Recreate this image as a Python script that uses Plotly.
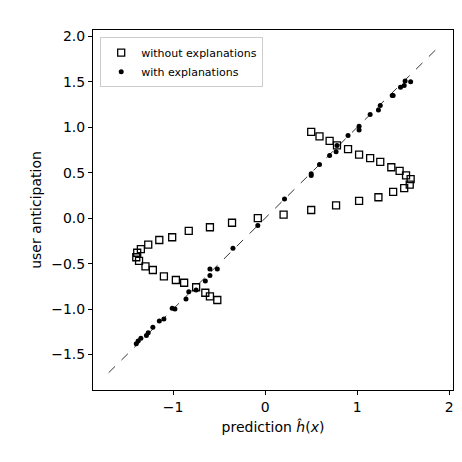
import plotly.graph_objects as go

sq_x = [0.50,0.59,0.70,0.78,0.90,1.02,1.14,1.25,1.37,1.46,1.53,1.58,1.57,1.51,1.39,1.23,1.02,0.77,0.50,0.20,
        -0.08,-0.36,-0.60,-0.83,-1.01,-1.15,-1.27,-1.35,-1.39,-1.40,-1.37,-1.30,-1.22,-1.10,-0.97,-0.88,-0.75,-0.65,-0.60,-0.52]
sq_y = [0.95,0.90,0.85,0.80,0.76,0.70,0.66,0.62,0.56,0.52,0.47,0.43,0.37,0.33,0.29,0.23,0.19,0.14,0.09,0.04,
        0.0,-0.05,-0.10,-0.14,-0.21,-0.24,-0.29,-0.34,-0.38,-0.43,-0.47,-0.53,-0.57,-0.64,-0.68,-0.71,-0.76,-0.82,-0.86,-0.90]
dot_x = [-1.40,-1.38,-1.35,-1.29,-1.27,-1.22,-1.15,-1.10,-1.01,-0.98,-0.86,-0.83,-0.75,-0.65,-0.60,-0.60,-0.52,-0.35,-0.08,
         0.21,0.50,0.50,0.59,0.70,0.77,0.78,0.90,1.02,1.02,1.14,1.23,1.25,1.38,1.39,1.47,1.51,1.52,1.58]
dot_y = [-1.38,-1.35,-1.32,-1.29,-1.26,-1.20,-1.13,-1.11,-0.99,-1.00,-0.89,-0.81,-0.79,-0.69,-0.63,-0.56,-0.56,-0.33,-0.08,
         0.21,0.47,0.49,0.59,0.69,0.73,0.80,0.91,0.97,1.01,1.14,1.19,1.24,1.35,1.35,1.44,1.46,1.51,1.50]
diag = [-1.7, 1.87]

fig = go.Figure()
fig.add_trace(go.Scatter(x=diag, y=diag, mode="lines", line=dict(color="black", width=0.8, dash="dash"), showlegend=False))
fig.add_trace(go.Scatter(x=sq_x, y=sq_y, mode="markers", name="without explanations",
    marker=dict(symbol="square-open", size=7, color="black", line=dict(width=1.3))))
fig.add_trace(go.Scatter(x=dot_x, y=dot_y, mode="markers", name="with explanations",
    marker=dict(symbol="circle", size=5, color="black")))

ax = dict(showgrid=False, zeroline=False, showline=True, mirror=True, linecolor="black", linewidth=1,
          automargin=False,
          ticks="outside", ticklen=4, tickcolor="black", tickfont=dict(size=14, family="DejaVu Sans", color="black"))
fig.update_layout(
    width=462, height=462, margin=dict(l=85, r=17, t=22, b=80, autoexpand=False),
    plot_bgcolor="white", paper_bgcolor="white",
    font=dict(family="DejaVu Sans", color="black"),
    xaxis=dict(ax, range=[-1.87, 2.04], tickvals=[-1,0,1,2], ticktext=["−1","0","1","2"],
               title=dict(text="prediction <i>ĥ</i>(<i>x</i>)", font=dict(size=14), standoff=8)),
    yaxis=dict(ax, range=[-1.89, 2.07], tickvals=[-1.5,-1,-0.5,0,0.5,1,1.5,2],
               ticktext=["−1.5","−1.0","−0.5","0.0","0.5","1.0","1.5","2.0"],
               title=dict(text="user anticipation", font=dict(size=14), standoff=6)),
    legend=dict(x=0.02, y=0.98, xanchor="left", yanchor="top", bordercolor="#cccccc", borderwidth=1,
                bgcolor="white", font=dict(size=11)),
)
fig.write_html("out.html")
